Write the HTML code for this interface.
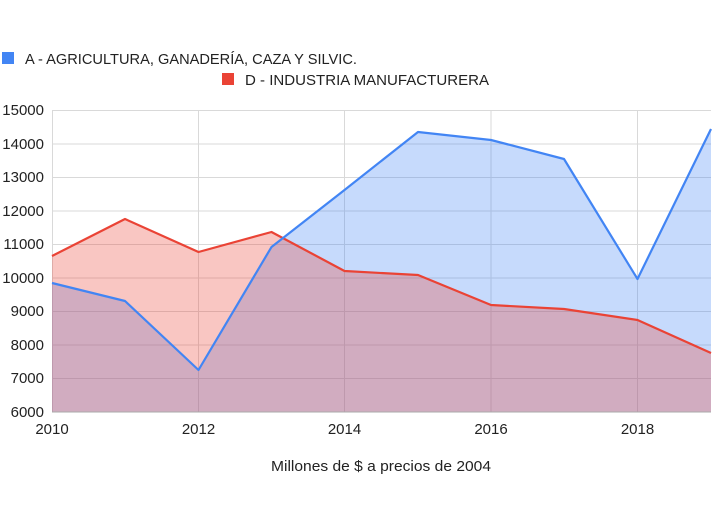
<!DOCTYPE html>
<html><head><meta charset="utf-8"><style>
body{margin:0;background:#fff;width:713px;height:515px;overflow:hidden}
svg text{font-family:"Liberation Sans",Arial,sans-serif;fill:#222}
</style></head><body>
<svg width="713" height="515" viewBox="0 0 713 515" xmlns="http://www.w3.org/2000/svg">
<rect x="2" y="52" width="12" height="12" fill="#4285f4"/>
<text x="25" y="64" font-size="14.8" textLength="332" lengthAdjust="spacingAndGlyphs">A - AGRICULTURA, GANADERÍA, CAZA Y SILVIC.</text>
<rect x="222" y="73" width="12" height="12" fill="#ea4335"/>
<text x="245" y="85" font-size="14.8" textLength="244" lengthAdjust="spacingAndGlyphs">D - INDUSTRIA MANUFACTURERA</text>
<g stroke="#d9d9d9" stroke-width="1">
<line x1="52" y1="110.5" x2="711" y2="110.5"/>
<line x1="52" y1="144" x2="711" y2="144"/>
<line x1="52" y1="177.5" x2="711" y2="177.5"/>
<line x1="52" y1="211" x2="711" y2="211"/>
<line x1="52" y1="244.5" x2="711" y2="244.5"/>
<line x1="52" y1="278" x2="711" y2="278"/>
<line x1="52" y1="311.5" x2="711" y2="311.5"/>
<line x1="52" y1="345" x2="711" y2="345"/>
<line x1="52" y1="378.5" x2="711" y2="378.5"/>
<line x1="198.5" y1="110" x2="198.5" y2="412"/>
<line x1="344.5" y1="110" x2="344.5" y2="412"/>
<line x1="491" y1="110" x2="491" y2="412"/>
<line x1="637.5" y1="110" x2="637.5" y2="412"/>
<line x1="52.5" y1="110" x2="52.5" y2="412"/>
</g>
<polygon fill="#4285f4" fill-opacity="0.3" points="52,412 52,283 125,301 198.5,370 271.5,247 344.5,190 418,132 491,140 564,159 637.5,279 711,129 711,412"/>
<polygon fill="#ea4335" fill-opacity="0.3" points="52,412 52,256 125,219 198.5,252 271.5,232 344.5,271 418,275 491,305 564,309 637.5,320 711,353 711,412"/>
<line x1="52" y1="412" x2="711" y2="412" stroke="#aaa"/>
<polyline fill="none" stroke="#ea4335" stroke-width="2.2" stroke-linejoin="round" points="52,256 125,219 198.5,252 271.5,232 344.5,271 418,275 491,305 564,309 637.5,320 711,353"/>
<polyline fill="none" stroke="#4285f4" stroke-width="2.2" stroke-linejoin="round" points="52,283 125,301 198.5,370 271.5,247 344.5,190 418,132 491,140 564,159 637.5,279 711,129"/>
<g font-size="15" text-anchor="end">
<text x="44" y="115">15000</text><text x="44" y="149">14000</text><text x="44" y="182">13000</text>
<text x="44" y="216">12000</text><text x="44" y="249">11000</text><text x="44" y="283">10000</text>
<text x="44" y="316">9000</text><text x="44" y="350">8000</text><text x="44" y="383">7000</text>
<text x="44" y="417">6000</text>
</g>
<g font-size="15" text-anchor="middle">
<text x="52" y="434">2010</text><text x="198.5" y="434">2012</text><text x="344.5" y="434">2014</text>
<text x="491" y="434">2016</text><text x="637.5" y="434">2018</text>
<text x="381" y="471" textLength="220" lengthAdjust="spacingAndGlyphs">Millones de $ a precios de 2004</text>
</g>
</svg>
</body></html>
